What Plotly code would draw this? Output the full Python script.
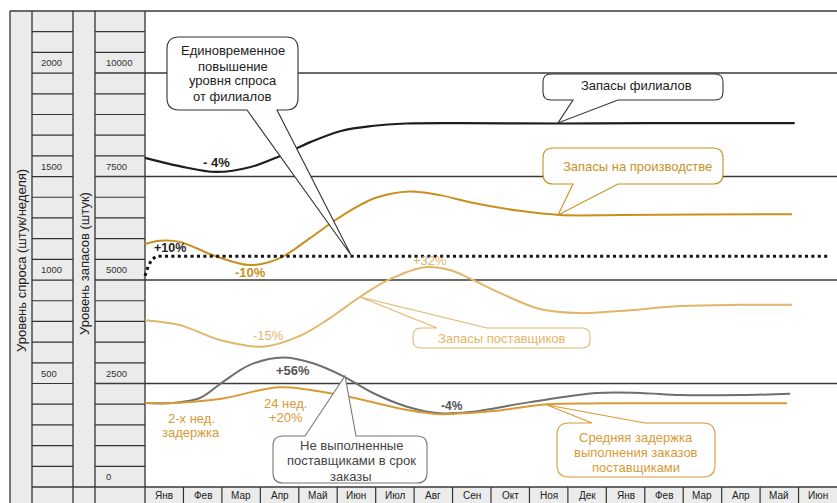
import plotly.graph_objects as go

W, H = 837, 503

# ---------------- data ----------------
months = ["Янв", "Фев", "Мар", "Апр", "Май", "Июн", "Июл", "Авг", "Сен",
          "Окт", "Ноя", "Дек", "Янв", "Фев", "Мар", "Апр", "Май", "Июн"]
demand_ticks = [2000, 1500, 1000, 500]          # штук/неделя
stock_ticks = [10000, 7500, 5000, 2500, 0]      # штук

# Запасы филиалов (stock units, x = months from start)
branch_m = [0, 0.9, 1.85, 2.75, 3.5, 4.3, 5.1, 5.9, 6.8, 8.2, 10.8, 13.1, 16.9]
branch_v = [7950, 7750, 7610, 7730, 7990, 8330, 8600, 8720, 8780, 8790, 8780, 8790, 8790]

# Запасы на производстве
prod_m = [0, 0.39, 0.91, 1.82, 2.73, 3.51, 4.29, 5.07, 5.98, 6.89, 7.67, 8.45, 9.75, 10.8, 12.36, 14.44, 16.83]
prod_v = [5870, 5950, 5920, 5580, 5360, 5530, 6010, 6520, 6980, 7140, 7050, 6880, 6670, 6570, 6570, 6580, 6590]

# Уровень спроса от филиалов (штук/неделя)
demand_m = [0, 0.08, 0.18, 0.3, 17.8]
demand_d = [1020, 1065, 1100, 1115, 1115]

# Запасы поставщиков
supp_m = [0, 0.91, 1.95, 3.07, 4.03, 4.81, 5.59, 6.37, 7.28, 7.93, 8.53, 9.23, 10.27, 11.32, 12.36, 13.92, 15.48, 16.83]
supp_v = [4030, 3910, 3550, 3390, 3650, 4080, 4590, 5020, 5310, 5240, 5000, 4690, 4300, 4200, 4250, 4370, 4400, 4400]

# Не выполненные поставщиками в срок заказы
late_m = [0, 0.73, 1.43, 2.03, 2.73, 3.59, 4.37, 5.15, 5.93, 6.82, 7.67, 8.45, 10.01, 11.76, 12.88, 13.92, 15.48, 16.78]
late_v = [2030, 2030, 2150, 2540, 2950, 3130, 2990, 2680, 2270, 1940, 1780, 1810, 2050, 2270, 2270, 2220, 2220, 2250]

# Средняя задержка выполнения заказов поставщиками
delay_m = [0, 0.73, 2.03, 3.51, 5.07, 6.82, 7.67, 8.45, 9.23, 10.46, 11.84, 14.44, 16.7]
delay_v = [2030, 2030, 2140, 2410, 2220, 1860, 1760, 1790, 1850, 2000, 2020, 2020, 2020]

# ---------------- styles ----------------
C_BLACK = "#1E1E1E"
C_PROD = "#C8911F"
C_SUPP = "#E2B66A"
C_LATE = "#6E6E6E"
C_DELAY = "#D89A35"
C_GRID = "#3A3A3A"
FONT = "Liberation Sans"

# axis geometry: plot columns from px 145 to 837 = 18 months; 0..10000 stock = px 487..73
MW = (W - 145) / 18.0
X0 = -145 / MW
K = (487 - 73) / 10000.0
Y_TOP = 487 / K
Y_BOT = -(H - 487) / K


def px(x):
    return x / W


def py(y):
    return 1 - y / H


fig = go.Figure()


def add_line(m, v, color, width, dash="solid"):
    fig.add_trace(go.Scatter(x=m, y=v, mode="lines",
                             line=dict(color=color, width=width, shape="spline",
                                       smoothing=1.0, dash=dash),
                             hoverinfo="skip"))


add_line(supp_m, supp_v, C_SUPP, 2)
add_line(branch_m, branch_v, C_BLACK, 2.2)
add_line(prod_m, prod_v, C_PROD, 2)
add_line(late_m, late_v, C_LATE, 2)
add_line(delay_m, delay_v, C_DELAY, 2)
fig.add_trace(go.Scatter(x=demand_m, y=[d * 5 for d in demand_d], mode="lines",
                         line=dict(color="#111111", width=3, dash="3px,3.4px"),
                         hoverinfo="skip"))

shapes = []


def sline(x0, y0, x1, y1, color="#333333", w=1.2, layer="below"):
    shapes.append(dict(type="line", xref="paper", yref="paper",
                       x0=px(x0), y0=py(y0), x1=px(x1), y1=py(y1),
                       line=dict(color=color, width=w), layer=layer))


# left table background and month row background
shapes.append(dict(type="rect", xref="paper", yref="paper", x0=px(10), x1=px(145),
                   y0=py(503), y1=py(11), fillcolor="#EBEBEB", line=dict(width=0), layer="below"))
shapes.append(dict(type="rect", xref="paper", yref="paper", x0=px(145), x1=1,
                   y0=py(503), y1=py(487), fillcolor="#EBEBEB", line=dict(width=0), layer="below"))

ROW = (487 - 11) / 23.0
for k in range(1, 23):
    y = 11 + k * ROW
    sline(32, y, 73, y)
    if k in (3, 8, 13, 18):
        sline(95, y, 837, y, color=C_GRID, w=1.5)
    else:
        sline(95, y, 145, y)
sline(10, 11, 837, 11, color=C_GRID, w=1.5)
sline(32, 487, 837, 487, color=C_GRID, w=1.5)
for xv in (10, 32, 73, 95, 145):
    sline(xv, 11, xv, 503, color="#333333", w=1.3)
for k in range(1, 18):
    shapes.append(dict(type="line", xref="x", yref="paper", x0=k, x1=k,
                       y0=py(503), y1=py(487), line=dict(color="#333333", width=1.2), layer="below"))


def P(x, y):
    return f"{px(x):.5f},{py(y):.5f}"


def bubble(x0, y0, x1, y1, side, b0, b1, tip, color, r=9):
    if side == "bottom":
        d = (f"M{P(x0 + r, y0)} L{P(x1 - r, y0)} Q{P(x1, y0)} {P(x1, y0 + r)} "
             f"L{P(x1, y1 - r)} Q{P(x1, y1)} {P(x1 - r, y1)} L{P(b1, y1)} L{P(*tip)} "
             f"L{P(b0, y1)} L{P(x0 + r, y1)} Q{P(x0, y1)} {P(x0, y1 - r)} "
             f"L{P(x0, y0 + r)} Q{P(x0, y0)} {P(x0 + r, y0)} Z")
    else:
        d = (f"M{P(x0 + r, y0)} L{P(b0, y0)} L{P(*tip)} L{P(b1, y0)} L{P(x1 - r, y0)} "
             f"Q{P(x1, y0)} {P(x1, y0 + r)} L{P(x1, y1 - r)} Q{P(x1, y1)} {P(x1 - r, y1)} "
             f"L{P(x0 + r, y1)} Q{P(x0, y1)} {P(x0, y1 - r)} L{P(x0, y0 + r)} "
             f"Q{P(x0, y0)} {P(x0 + r, y0)} Z")
    shapes.append(dict(type="path", xref="paper", yref="paper", path=d,
                       fillcolor="white", line=dict(color=color, width=1.1), layer="above"))


bubble(167, 37, 298, 110, "bottom", 247, 277, (351, 255), "#333333", r=12)
bubble(543, 74, 723, 100, "bottom", 573, 618, (558, 123), "#333333", r=8)
bubble(543, 148, 723, 184, "bottom", 573, 618, (558, 215), C_PROD, r=10)
bubble(413, 328, 590, 348, "top", 437, 487, (360, 297), C_SUPP, r=8)
bubble(273, 436, 427, 483, "top", 305, 356, (345, 376), "#777777", r=10)
bubble(557, 423, 715, 477, "top", 592, 645, (547, 405), C_DELAY, r=12)

ann = []


def text(x, y, s, color="#222222", size=13, bold=False, xanchor="center", angle=0):
    if bold:
        s = f"<b>{s}</b>"
    ann.append(dict(x=px(x), y=py(y), xref="paper", yref="paper", text=s, showarrow=False,
                    xanchor=xanchor, yanchor="middle", textangle=angle,
                    font=dict(family=FONT, size=size, color=color)))


# month labels through the x axis
for i, mname in enumerate(months):
    ann.append(dict(x=i + 0.5, y=py(495), xref="x", yref="paper", text=mname, showarrow=False,
                    xanchor="center", yanchor="middle",
                    font=dict(family=FONT, size=10, color="#222222")))

# scale labels through the y axis
for d in demand_ticks:
    ann.append(dict(x=px(39), y=d * 5 + 250, xref="paper", yref="y", text=str(d), showarrow=False,
                    xanchor="left", yanchor="middle",
                    font=dict(family=FONT, size=9.5, color="#333333")))
for s in stock_ticks:
    ann.append(dict(x=px(104), y=s + 250, xref="paper", yref="y", text=str(s), showarrow=False,
                    xanchor="left", yanchor="middle",
                    font=dict(family=FONT, size=9.5, color="#333333")))

text(21, 261, "Уровень спроса (штук/неделя)", "#222222", 13, angle=-90)
text(84, 264, "Уровень запасов (штук)", "#222222", 13, angle=-90)

# callout texts
for i, s in enumerate(["Единовременное", "повышение", "уровня спроса", "от филиалов"]):
    text(233, 51 + i * 15, s, "#222222", 13)
text(636, 86, "Запасы филиалов", "#222222", 13)
text(637, 166, "Запасы на производстве", C_PROD, 13)
text(502, 338, "Запасы поставщиков", C_SUPP, 13)
for i, s in enumerate(["Не выполненные", "поставщиками в срок", "заказы"]):
    text(351, 445 + i * 15.5, s, "#444444", 13)
for i, s in enumerate(["Средняя задержка", "выполнения заказов", "поставщиками"]):
    text(636, 437 + i * 15.3, s, C_DELAY, 13)

# change labels
text(216, 162, "- 4%", C_BLACK, 13, bold=True)
text(170, 248, "+10%", C_BLACK, 12.5, bold=True)
text(250, 272.5, "-10%", C_PROD, 13, bold=True)
text(268, 335.5, "-15%", C_SUPP, 13)
text(430, 260, "+32%", C_SUPP, 13)
text(293, 370.5, "+56%", "#555555", 13, bold=True)
text(452, 406, "-4%", "#555555", 12, bold=True)
text(191, 418, "2-х нед.", C_DELAY, 13)
text(191, 432, "задержка", C_DELAY, 13)
text(285, 403, "24 нед.", C_DELAY, 13)
text(285.5, 417, "+20%", C_DELAY, 13)

fig.update_layout(
    width=W, height=H, margin=dict(l=0, r=0, t=0, b=0),
    paper_bgcolor="white", plot_bgcolor="white", showlegend=False,
    xaxis=dict(range=[X0, 18], visible=False, fixedrange=True, domain=[0, 1]),
    yaxis=dict(range=[Y_BOT, Y_TOP], visible=False, fixedrange=True, domain=[0, 1]),
    shapes=shapes, annotations=ann,
    font=dict(family=FONT),
)

fig.write_html("out.html")
